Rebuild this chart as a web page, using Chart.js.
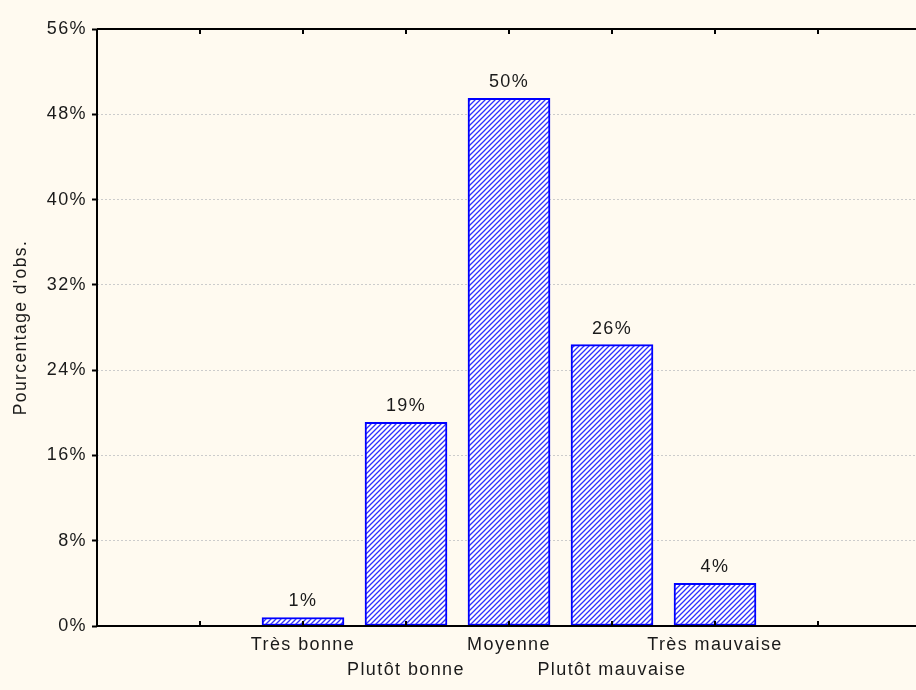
<!DOCTYPE html>
<html>
<head>
<meta charset="utf-8">
<script src="https://cdn.jsdelivr.net/npm/chart.js@4.4.1/dist/chart.umd.min.js"></script>
<style>
  html, body { margin: 0; padding: 0; background: #fffaf0; overflow: hidden; }
  #wrap { width: 930px; height: 690px; }
</style>
</head>
<body>
<div id="wrap"><canvas id="chart" width="930" height="690"></canvas></div>
<script>
// categories and values
const categories = ["Très bonne", "Plutôt bonne", "Moyenne", "Plutôt mauvaise", "Très mauvaise"];
const percents = [0.8, 19.1, 49.5, 26.4, 4.0];
const percentLabels = ["1%", "19%", "50%", "26%", "4%"];
const yTicks = [0, 8, 16, 24, 32, 40, 48, 56];

// two empty slots on each side, like the original axis
const slots = ["", ""].concat(categories, ["", ""]);
const slotValues = [null, null].concat(percents, [null, null]);

const FONT = "'Liberation Sans', Arial, sans-serif";
const SPACING = "1.4px";

function hatch() {
  const size = 5;
  const c = document.createElement("canvas");
  c.width = size;
  c.height = size;
  const g = c.getContext("2d");
  g.fillStyle = "#ffffff";
  g.fillRect(0, 0, size, size);
  g.strokeStyle = "#3030ff";
  g.lineWidth = 1.3;
  g.beginPath();
  g.moveTo(0, size);
  g.lineTo(size, 0);
  g.moveTo(-1, 1);
  g.lineTo(1, -1);
  g.moveTo(size - 1, size + 1);
  g.lineTo(size + 1, size - 1);
  g.stroke();
  return g.createPattern(c, "repeat");
}

// the original text is a bit spaced out
const spacing = {
  id: "spacing",
  beforeUpdate(chart) { chart.ctx.letterSpacing = SPACING; },
  beforeDraw(chart) { chart.ctx.letterSpacing = SPACING; }
};

const frame = {
  id: "frame",
  afterDraw(chart) {
    const { ctx, chartArea: a } = chart;
    const x = chart.scales.x;
    ctx.save();
    ctx.strokeStyle = "#000";
    ctx.lineWidth = 2;
    ctx.beginPath();
    ctx.moveTo(a.left, a.top);
    ctx.lineTo(a.right + 20, a.top);
    ctx.moveTo(a.left, a.top);
    ctx.lineTo(a.left, a.bottom);
    ctx.moveTo(a.left, a.bottom);
    ctx.lineTo(a.right + 20, a.bottom);
    ctx.stroke();
    // small inner ticks on top and bottom edges
    for (let i = 1; i < slots.length - 1; i++) {
      const px = Math.round(x.getPixelForValue(i));
      ctx.beginPath();
      ctx.moveTo(px, a.top);
      ctx.lineTo(px, a.top + 5);
      ctx.moveTo(px, a.bottom);
      ctx.lineTo(px, a.bottom - 5);
      ctx.stroke();
    }
    // value labels above bars
    ctx.fillStyle = "#1a1a1a";
    ctx.font = "18px " + FONT;
    ctx.textAlign = "center";
    ctx.textBaseline = "bottom";
    chart.getDatasetMeta(0).data.forEach((bar, i) => {
      const k = i - 2;
      if (k < 0 || k >= percentLabels.length) return;
      ctx.fillText(percentLabels[k], bar.x, bar.y - 7);
    });
    ctx.restore();
  }
};

new Chart(document.getElementById("chart"), {
  type: "bar",
  data: {
    labels: slots,
    datasets: [{
      data: slotValues,
      backgroundColor: hatch(),
      borderColor: "#0000ff",
      borderWidth: 2,
      borderSkipped: false,
      barThickness: 82
    }]
  },
  options: {
    responsive: false,
    animation: false,
    layout: { padding: { top: 29, right: 9, left: 0, bottom: 0 } },
    plugins: { legend: { display: false }, tooltip: { enabled: false } },
    scales: {
      x: {
        offset: false,
        grid: { display: false, drawTicks: false },
        border: { display: false },
        afterFit: (s) => { s.height = 64; },
        ticks: {
          autoSkip: false,
          maxRotation: 0,
          padding: 6,
          color: "#1a1a1a",
          font: { family: FONT, size: 18, lineHeight: 1.4 },
          callback: (v, i) => {
            const k = i - 2;
            if (k < 0 || k >= categories.length) return "";
            return k % 2 === 0 ? [categories[k]] : ["", categories[k]];
          }
        }
      },
      y: {
        min: 0,
        max: 56,
        afterFit: (s) => { s.width = 97; },
        afterBuildTicks: (s) => { s.ticks = yTicks.map((v) => ({ value: v })); },
        grid: {
          color: (c) => (c.tick.value === 0 || c.tick.value === 56 ? "rgba(0,0,0,0)" : "#cccccc"),
          tickColor: "#000",
          tickLength: 5,
          tickWidth: 2,
          tickBorderDash: []
        },
        border: { display: false, dash: [2, 2] },
        title: {
          display: true,
          text: "Pourcentage d'obs.",
          color: "#1a1a1a",
          padding: { top: 11, bottom: 0 },
          font: { family: FONT, size: 17.5 }
        },
        ticks: {
          padding: 5,
          color: "#1a1a1a",
          font: { family: FONT, size: 18 },
          callback: (v) => v + "%"
        }
      }
    }
  },
  plugins: [spacing, frame]
});
</script>
</body>
</html>
